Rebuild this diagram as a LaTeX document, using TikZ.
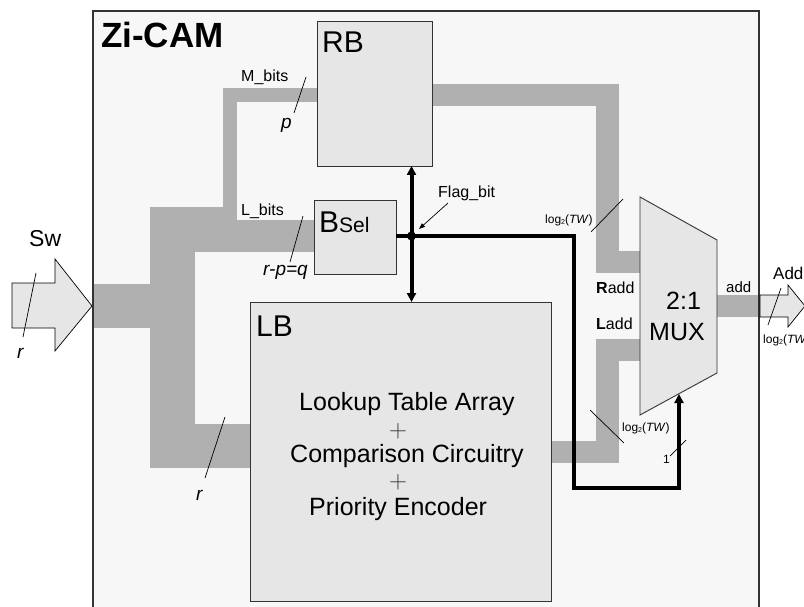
\documentclass[tikz,border=0pt]{standalone}
\usepackage{fontspec}
\setmainfont{Liberation Sans}
\usetikzlibrary{arrows.meta,calc}
\definecolor{outerbg}{HTML}{F7F7F7}
\definecolor{blockbg}{HTML}{E6E6E6}
\definecolor{busgray}{HTML}{B0B0B0}
\definecolor{edgec}{HTML}{333333}
\newcommand{\fsz}[1]{\fontsize{#1}{#1}\selectfont}
\newcommand{\logtw}{log\raisebox{-0.3ex}{\fsz{7}2}(\textit{TW})}
\begin{document}
\begin{tikzpicture}[x=1pt,y=-1pt,
  block/.style={draw=edgec, line width=0.9pt, fill=blockbg, inner sep=0, outer sep=0, anchor=north west},
  bus/.style={fill=busgray, draw=none},
  lbl/.style={inner sep=0, anchor=base west},
  slash/.style={draw=black, line width=0.7pt},
  sig/.style={draw=black, line width=4pt, line join=miter},
  bigtip/.style={-{Triangle[length=9pt,width=9pt]}},
  iotip/.style={draw=black, line width=0.7pt, fill=blockbg, line join=miter}]

\useasboundingbox (0,0) rectangle (804,607);
\clip (0,0) rectangle (804,607);

% outer Zi-CAM box background
\fill[outerbg] (93,11) rectangle (759,620);

% input arrow Sw
\draw[iotip] (12,283) -- (55,283) -- (55,259) -- (92,306) -- (55,351) -- (55,328) -- (12,328) -- cycle;

% buses (input side)
\fill[bus] (93,284) rectangle (195,328);
\fill[bus] (150,207) rectangle (195,468);
\fill[bus] (150,424) rectangle (250,468);
\fill[bus] (150,207) rectangle (237,252);
\fill[bus] (150,220) rectangle (314,252);
\fill[bus] (223,88) rectangle (237,220);
\fill[bus] (223,88) rectangle (317,102);
% RB -> MUX
\fill[bus] (432,84) rectangle (619,106);
\fill[bus] (596,84) rectangle (619,273);
\fill[bus] (596,251) rectangle (640,273);
% LB -> MUX
\fill[bus] (551,441) rectangle (619,463);
\fill[bus] (596,339) rectangle (619,463);
\fill[bus] (596,339) rectangle (640,361);
% MUX out
\fill[bus] (717,295) rectangle (760,317);

% outer border
\draw[edgec, line width=1.8pt] (93,11) rectangle (759,620);

% output arrow Add
\draw[iotip] (760,295) -- (788,295) -- (788,285) -- (805,306) -- (788,327) -- (788,317) -- (760,317) -- cycle;

% blocks
\node[block, minimum width=115, minimum height=145] (RB) at (317,21) {};
\node[block, minimum width=82, minimum height=74] (BSel) at (314,200) {};
\node[block, minimum width=301, minimum height=299] (LB) at (250,302) {};
\draw[edgec, line width=0.9pt, fill=blockbg] (640,197) coordinate (m1) -- (717,240) coordinate (m2)
  -- (717,373) coordinate (m3) -- (640,415) coordinate (m4) -- cycle;
\coordinate (muxin) at (679,394);

% block texts
\node[lbl, font=\bfseries\fsz{35}] (title) at (101,48) {Zi-CAM};
\node[lbl, font=\fsz{30}] (rbt) at (322,53) {RB};
\node[lbl, font=\fsz{30}] (lbt) at (256,336) {LB};
\node[lbl] (bst) at (319,233) {\fsz{30}B\fsz{21}Sel};
\node[lbl, font=\fsz{25}] (t1) at (299,410) {Lookup Table Array};
\node[inner sep=0, text=edgec, font=\fsz{29}] (pl1) at (398,431) {$+$};
\node[lbl, font=\fsz{25}] (t2) at (290,462) {Comparison Circuitry};
\node[inner sep=0, text=edgec, font=\fsz{29}] (pl2) at (398,482) {$+$};
\node[lbl, font=\fsz{25}] (t3) at (309,515) {Priority Encoder};
\node[lbl, font=\fsz{25}] (mx1) at (666,309) {2:1};
\node[lbl, font=\fsz{25}] (mx2) at (649,340) {MUX};

% bus labels
\node[lbl, font=\fsz{23}] (sw) at (29,247) {Sw};
\node[lbl, font=\fsz{19}] (rin) at (17,358) {\textit{r}};
\node[lbl, font=\fsz{16}] (mb) at (241,82) {M\_bits};
\node[lbl, font=\fsz{19}] (pl) at (281,129) {\textit{p}};
\node[lbl, font=\fsz{16}] (lb) at (241,215) {L\_bits};
\node[lbl, font=\fsz{19}] (rpq) at (263,275) {\textit{r-p=q}};
\node[lbl, font=\fsz{19}] (rtr) at (196,500) {\textit{r}};
\node[lbl, font=\fsz{12}] (lg1) at (545,223) {\logtw};
\node[lbl, font=\fsz{12}] (lg2) at (622,431) {\logtw};
\node[lbl, font=\fsz{12}] (one) at (663,463) {1};
\node[lbl, font=\fsz{16}] (flag) at (438,197) {Flag\_bit};
\node[lbl, font=\fsz{16}] (radd) at (596,293) {\textbf{R}add};
\node[lbl, font=\fsz{16}] (ladd) at (596,329) {\textbf{L}add};
\node[lbl, font=\fsz{15}] (addl) at (726,292) {add};
\node[lbl, font=\fsz{17}] (addo) at (773,279) {Add};
\node[lbl, font=\fsz{12}] (lg3) at (763,343) {\logtw};

% bus width slashes
\draw[slash] (36,273) -- (23,337);
\draw[slash] (306,77) -- (294,113);
\draw[slash] (303,216) -- (290,262);
\draw[slash] (225,417) -- (205,478);
\draw[slash] (623,199) -- (591,232);
\draw[slash] (590,410) -- (624,443);
\draw[slash] (686,440) -- (670,456);
\draw[slash] (781,288) -- (768,325);

% control signals
\coordinate (dot) at (411.5,236);
\draw[sig, {Triangle[length=9pt,width=9pt]}-{Triangle[length=9pt,width=9pt]}] (dot |- RB.south) -- (dot |- LB.north);
\draw[sig] (BSel.east |- dot) -- (dot);
\draw[sig, bigtip] (dot) -- (574,236) -- (574,488) -- (muxin |- 0,488) -- (muxin);
\fill (dot) circle (4.5pt);
\coordinate (ftail) at (448,203);
\coordinate (fhead) at (419,229);
\draw[line width=0.7pt, -{Triangle[length=6pt,width=4.5pt]}] (ftail) -- (fhead);
\end{tikzpicture}
\end{document}
